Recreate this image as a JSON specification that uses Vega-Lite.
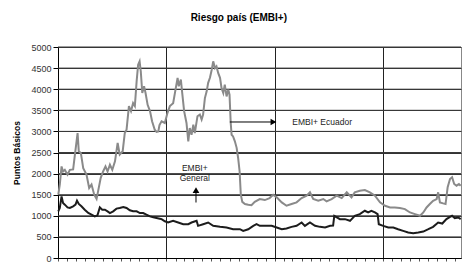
{
  "$schema": "https://vega.github.io/schema/vega-lite/v6.json",
  "width": 403,
  "height": 211,
  "autosize": {"type": "none"},
  "padding": {"left": 58, "top": 47, "right": 9, "bottom": 15},
  "background": "white",
  "config": {
    "font": "Liberation Sans",
    "view": {"stroke": "#888888", "strokeWidth": 1}
  },
  "title": {
    "text": "Riesgo país (EMBI+)",
    "fontSize": 10,
    "fontWeight": "bold",
    "font": "Liberation Sans",
    "color": "#000000",
    "frame": "bounds",
    "anchor": "middle",
    "offset": 20
  },
  "resolve": {"axis": {"x": "independent"}},
  "datasets": {
    "rejilla": [
      {"pb": 500}, {"pb": 1000}, {"pb": 1500}, {"pb": 2000}, {"pb": 2500}, {"pb": 3000}, {"pb": 3500}, {"pb": 4000}, {"pb": 4500}, {"pb": 5000}
    ],
    "ecuador": [
      {"fecha": "1999-01-02", "pb": 1500}, {"fecha": "1999-01-07", "pb": 1740}, {"fecha": "1999-01-13", "pb": 2170}, {"fecha": "1999-01-18", "pb": 2050},
      {"fecha": "1999-01-24", "pb": 2090}, {"fecha": "1999-02-02", "pb": 1975}, {"fecha": "1999-02-10", "pb": 2090}, {"fecha": "1999-02-21", "pb": 2100},
      {"fecha": "1999-02-27", "pb": 2450}, {"fecha": "1999-03-08", "pb": 2960}, {"fecha": "1999-03-12", "pb": 2530}, {"fecha": "1999-03-19", "pb": 2490},
      {"fecha": "1999-03-27", "pb": 2130}, {"fecha": "1999-04-07", "pb": 1975}, {"fecha": "1999-04-16", "pb": 1660}, {"fecha": "1999-04-24", "pb": 1740},
      {"fecha": "1999-05-03", "pb": 1500}, {"fecha": "1999-05-11", "pb": 1400}, {"fecha": "1999-05-16", "pb": 1580}, {"fecha": "1999-05-25", "pb": 1900},
      {"fecha": "1999-06-02", "pb": 2050}, {"fecha": "1999-06-10", "pb": 2170}, {"fecha": "1999-06-17", "pb": 2050}, {"fecha": "1999-06-25", "pb": 2210},
      {"fecha": "1999-07-03", "pb": 2090}, {"fecha": "1999-07-12", "pb": 2290}, {"fecha": "1999-07-21", "pb": 2725}, {"fecha": "1999-07-28", "pb": 2450},
      {"fecha": "1999-08-07", "pb": 2530}, {"fecha": "1999-08-14", "pb": 2960}, {"fecha": "1999-08-20", "pb": 3040}, {"fecha": "1999-08-28", "pb": 3600},
      {"fecha": "1999-09-04", "pb": 3480}, {"fecha": "1999-09-11", "pb": 3670}, {"fecha": "1999-09-17", "pb": 3600}, {"fecha": "1999-09-23", "pb": 4190},
      {"fecha": "1999-09-28", "pb": 4580}, {"fecha": "1999-10-03", "pb": 4660}, {"fecha": "1999-10-07", "pb": 4420}, {"fecha": "1999-10-12", "pb": 3910},
      {"fecha": "1999-10-18", "pb": 4070}, {"fecha": "1999-10-23", "pb": 3910}, {"fecha": "1999-10-30", "pb": 3630}, {"fecha": "1999-11-07", "pb": 3480},
      {"fecha": "1999-11-14", "pb": 3240}, {"fecha": "1999-11-23", "pb": 3040}, {"fecha": "1999-11-29", "pb": 2990}, {"fecha": "1999-12-05", "pb": 3000},
      {"fecha": "1999-12-09", "pb": 3150}, {"fecha": "1999-12-16", "pb": 3240}, {"fecha": "1999-12-27", "pb": 3200}, {"fecha": "2000-01-05", "pb": 3440},
      {"fecha": "2000-01-13", "pb": 3600}, {"fecha": "2000-01-24", "pb": 3670}, {"fecha": "2000-02-01", "pb": 3990}, {"fecha": "2000-02-08", "pb": 4270},
      {"fecha": "2000-02-12", "pb": 4070}, {"fecha": "2000-02-19", "pb": 4230}, {"fecha": "2000-02-23", "pb": 3950}, {"fecha": "2000-03-01", "pb": 3480},
      {"fecha": "2000-03-09", "pb": 3200}, {"fecha": "2000-03-15", "pb": 2765}, {"fecha": "2000-03-20", "pb": 3080}, {"fecha": "2000-03-26", "pb": 2920},
      {"fecha": "2000-04-01", "pb": 3160}, {"fecha": "2000-04-06", "pb": 2960}, {"fecha": "2000-04-15", "pb": 3360}, {"fecha": "2000-04-23", "pb": 3400},
      {"fecha": "2000-04-29", "pb": 3280}, {"fecha": "2000-05-04", "pb": 3400}, {"fecha": "2000-05-10", "pb": 3790}, {"fecha": "2000-05-16", "pb": 3950},
      {"fecha": "2000-05-21", "pb": 4150}, {"fecha": "2000-05-27", "pb": 4270}, {"fecha": "2000-06-02", "pb": 4460}, {"fecha": "2000-06-07", "pb": 4660},
      {"fecha": "2000-06-13", "pb": 4500}, {"fecha": "2000-06-18", "pb": 4540}, {"fecha": "2000-06-24", "pb": 4380}, {"fecha": "2000-06-30", "pb": 4270},
      {"fecha": "2000-07-05", "pb": 4030}, {"fecha": "2000-07-11", "pb": 3910}, {"fecha": "2000-07-16", "pb": 4110}, {"fecha": "2000-07-22", "pb": 3830},
      {"fecha": "2000-07-28", "pb": 3990}, {"fecha": "2000-08-01", "pb": 3870}, {"fecha": "2000-08-05", "pb": 3200}, {"fecha": "2000-08-08", "pb": 2920},
      {"fecha": "2000-08-13", "pb": 2880}, {"fecha": "2000-08-19", "pb": 2765}, {"fecha": "2000-08-25", "pb": 2610}, {"fecha": "2000-08-30", "pb": 2370},
      {"fecha": "2000-09-04", "pb": 2050}, {"fecha": "2000-09-08", "pb": 1500}, {"fecha": "2000-09-13", "pb": 1330}, {"fecha": "2000-09-22", "pb": 1280},
      {"fecha": "2000-10-03", "pb": 1260}, {"fecha": "2000-10-14", "pb": 1250}, {"fecha": "2000-10-25", "pb": 1330}, {"fecha": "2000-11-11", "pb": 1397},
      {"fecha": "2000-11-28", "pb": 1373}, {"fecha": "2000-12-14", "pb": 1420}, {"fecha": "2000-12-26", "pb": 1500}, {"fecha": "2001-01-07", "pb": 1437},
      {"fecha": "2001-01-24", "pb": 1318}, {"fecha": "2001-02-09", "pb": 1238}, {"fecha": "2001-02-26", "pb": 1278}, {"fecha": "2001-03-15", "pb": 1318},
      {"fecha": "2001-04-01", "pb": 1420}, {"fecha": "2001-04-18", "pb": 1476}, {"fecha": "2001-04-29", "pb": 1556}, {"fecha": "2001-05-10", "pb": 1397},
      {"fecha": "2001-05-27", "pb": 1357}, {"fecha": "2001-06-13", "pb": 1397}, {"fecha": "2001-06-24", "pb": 1341}, {"fecha": "2001-07-11", "pb": 1397},
      {"fecha": "2001-07-28", "pb": 1476}, {"fecha": "2001-08-14", "pb": 1420}, {"fecha": "2001-08-31", "pb": 1556}, {"fecha": "2001-09-16", "pb": 1437},
      {"fecha": "2001-09-27", "pb": 1556}, {"fecha": "2001-10-14", "pb": 1595}, {"fecha": "2001-10-31", "pb": 1611}, {"fecha": "2001-11-17", "pb": 1556},
      {"fecha": "2001-12-04", "pb": 1476}, {"fecha": "2001-12-21", "pb": 1318}, {"fecha": "2002-01-07", "pb": 1238}, {"fecha": "2002-01-24", "pb": 1198},
      {"fecha": "2002-02-09", "pb": 1198}, {"fecha": "2002-02-26", "pb": 1183}, {"fecha": "2002-03-15", "pb": 1159}, {"fecha": "2002-04-01", "pb": 1079},
      {"fecha": "2002-04-18", "pb": 1040}, {"fecha": "2002-05-05", "pb": 1000}, {"fecha": "2002-05-16", "pb": 1079}, {"fecha": "2002-05-27", "pb": 1198},
      {"fecha": "2002-06-07", "pb": 1278}, {"fecha": "2002-06-18", "pb": 1357}, {"fecha": "2002-06-30", "pb": 1397}, {"fecha": "2002-07-05", "pb": 1556},
      {"fecha": "2002-07-11", "pb": 1318}, {"fecha": "2002-07-22", "pb": 1294}, {"fecha": "2002-07-30", "pb": 1278}, {"fecha": "2002-08-06", "pb": 1675},
      {"fecha": "2002-08-14", "pb": 1873}, {"fecha": "2002-08-21", "pb": 1913}, {"fecha": "2002-08-28", "pb": 1754}, {"fecha": "2002-09-05", "pb": 1714},
      {"fecha": "2002-09-13", "pb": 1754}, {"fecha": "2002-09-19", "pb": 1714}
    ],
    "general": [
      {"fecha": "1999-01-02", "pb": 1106}, {"fecha": "1999-01-07", "pb": 1185}, {"fecha": "1999-01-13", "pb": 1461}, {"fecha": "1999-01-18", "pb": 1303},
      {"fecha": "1999-01-24", "pb": 1264}, {"fecha": "1999-02-02", "pb": 1200}, {"fecha": "1999-02-10", "pb": 1185}, {"fecha": "1999-02-21", "pb": 1225},
      {"fecha": "1999-03-01", "pb": 1264}, {"fecha": "1999-03-06", "pb": 1359}, {"fecha": "1999-03-12", "pb": 1280}, {"fecha": "1999-03-21", "pb": 1225},
      {"fecha": "1999-04-01", "pb": 1145}, {"fecha": "1999-04-13", "pb": 1066}, {"fecha": "1999-04-24", "pb": 1027}, {"fecha": "1999-05-05", "pb": 987},
      {"fecha": "1999-05-14", "pb": 1011}, {"fecha": "1999-05-22", "pb": 1200}, {"fecha": "1999-05-30", "pb": 1145}, {"fecha": "1999-06-08", "pb": 1145},
      {"fecha": "1999-06-17", "pb": 1106}, {"fecha": "1999-06-25", "pb": 1066}, {"fecha": "1999-07-06", "pb": 1106}, {"fecha": "1999-07-17", "pb": 1170},
      {"fecha": "1999-07-28", "pb": 1185}, {"fecha": "1999-08-09", "pb": 1209}, {"fecha": "1999-08-20", "pb": 1185}, {"fecha": "1999-08-31", "pb": 1130},
      {"fecha": "1999-09-11", "pb": 1106}, {"fecha": "1999-09-23", "pb": 1106}, {"fecha": "1999-10-04", "pb": 1066}, {"fecha": "1999-10-15", "pb": 1066},
      {"fecha": "1999-10-26", "pb": 1027}, {"fecha": "1999-11-07", "pb": 987}, {"fecha": "1999-11-18", "pb": 964}, {"fecha": "1999-11-29", "pb": 948},
      {"fecha": "1999-12-10", "pb": 932}, {"fecha": "1999-12-16", "pb": 921}, {"fecha": "1999-12-27", "pb": 870}, {"fecha": "2000-01-07", "pb": 841},
      {"fecha": "2000-01-24", "pb": 881}, {"fecha": "2000-02-10", "pb": 841}, {"fecha": "2000-02-27", "pb": 801}, {"fecha": "2000-03-15", "pb": 801},
      {"fecha": "2000-03-26", "pb": 841}, {"fecha": "2000-04-12", "pb": 881}, {"fecha": "2000-04-17", "pb": 762}, {"fecha": "2000-05-04", "pb": 801},
      {"fecha": "2000-05-21", "pb": 841}, {"fecha": "2000-06-07", "pb": 762}, {"fecha": "2000-06-30", "pb": 738}, {"fecha": "2000-07-22", "pb": 722},
      {"fecha": "2000-08-13", "pb": 682}, {"fecha": "2000-09-05", "pb": 682}, {"fecha": "2000-09-16", "pb": 643}, {"fecha": "2000-10-03", "pb": 682},
      {"fecha": "2000-10-20", "pb": 762}, {"fecha": "2000-10-31", "pb": 801}, {"fecha": "2000-11-11", "pb": 762}, {"fecha": "2000-11-28", "pb": 762},
      {"fecha": "2000-12-21", "pb": 762}, {"fecha": "2001-01-07", "pb": 722}, {"fecha": "2001-01-24", "pb": 682}, {"fecha": "2001-02-09", "pb": 698},
      {"fecha": "2001-02-26", "pb": 738}, {"fecha": "2001-03-15", "pb": 762}, {"fecha": "2001-04-01", "pb": 841}, {"fecha": "2001-04-12", "pb": 762},
      {"fecha": "2001-04-29", "pb": 841}, {"fecha": "2001-05-16", "pb": 762}, {"fecha": "2001-06-02", "pb": 738}, {"fecha": "2001-06-19", "pb": 722},
      {"fecha": "2001-07-06", "pb": 762}, {"fecha": "2001-07-16", "pb": 770}, {"fecha": "2001-07-20", "pb": 1000}, {"fecha": "2001-08-08", "pb": 921},
      {"fecha": "2001-08-25", "pb": 921}, {"fecha": "2001-09-11", "pb": 881}, {"fecha": "2001-09-27", "pb": 1000}, {"fecha": "2001-10-14", "pb": 1040},
      {"fecha": "2001-10-31", "pb": 1119}, {"fecha": "2001-11-11", "pb": 1079}, {"fecha": "2001-11-22", "pb": 1119}, {"fecha": "2001-12-04", "pb": 1079},
      {"fecha": "2001-12-13", "pb": 1040}, {"fecha": "2001-12-17", "pb": 801}, {"fecha": "2002-01-01", "pb": 762}, {"fecha": "2002-01-18", "pb": 722},
      {"fecha": "2002-02-04", "pb": 722}, {"fecha": "2002-02-20", "pb": 682}, {"fecha": "2002-03-09", "pb": 643}, {"fecha": "2002-03-26", "pb": 603},
      {"fecha": "2002-04-12", "pb": 587}, {"fecha": "2002-04-29", "pb": 603}, {"fecha": "2002-05-16", "pb": 627}, {"fecha": "2002-06-02", "pb": 682},
      {"fecha": "2002-06-18", "pb": 738}, {"fecha": "2002-07-05", "pb": 841}, {"fecha": "2002-07-19", "pb": 817}, {"fecha": "2002-08-02", "pb": 921},
      {"fecha": "2002-08-14", "pb": 976}, {"fecha": "2002-08-21", "pb": 1000}, {"fecha": "2002-08-30", "pb": 944}, {"fecha": "2002-09-11", "pb": 960},
      {"fecha": "2002-09-19", "pb": 921}
    ],
    "flechas": [
      {"fecha": "2000-08-02", "fecha2": "2000-12-20", "pb": 3223, "pb2": 3223},
      {"fecha": "2000-04-10", "fecha2": "2000-04-10", "pb": 1315, "pb2": 1580}
    ],
    "puntaDerecha": [{"fecha": "2000-12-27", "pb": 3223}],
    "puntaArriba": [{"fecha": "2000-04-10", "pb": 1610}],
    "notas": [
      {"fecha": "2001-06-09", "pb": 3223, "texto": "EMBI+ Ecuador"},
      {"fecha": "2000-04-06", "pb": 2137, "texto": "EMBI+"},
      {"fecha": "2000-04-06", "pb": 1891, "texto": "General"}
    ]
  },
  "encoding": {
    "y": {
      "field": "pb",
      "type": "quantitative",
      "scale": {"domain": [0, 5000], "nice": false},
      "axis": {
        "title": "Puntos Básicos",
        "titleFontSize": 8.5,
        "titleFontWeight": "bold",
        "titleColor": "#000000",
        "titlePadding": 9,
        "values": [0, 500, 1000, 1500, 2000, 2500, 3000, 3500, 4000, 4500, 5000],
        "format": "d",
        "labelFontSize": 9,
        "labelColor": "#333333",
        "labelPadding": 2,
        "tickSize": 5,
        "tickColor": "#000000",
        "domainColor": "#000000",
        "grid": true,
        "gridColor": "#333333",
        "gridOpacity": 1,
        "gridWidth": 1
      }
    }
  },
  "layer": [
    {
      "data": {"name": "rejilla"},
      "mark": {"type": "rule", "color": "#3a3a3a", "strokeWidth": 1}
    },
    {
      "data": {"name": "ecuador"},
      "mark": {"type": "line", "color": "#8a8a8a", "strokeWidth": 2},
      "encoding": {
        "x": {
          "field": "fecha",
          "type": "temporal",
          "scale": {"domain": [{"year": 1999, "month": 1, "date": 1}, {"year": 2002, "month": 9, "date": 20}]},
          "axis": {
            "orient": "top",
            "title": null,
            "labels": false,
            "ticks": false,
            "domain": false,
            "values": [{"year": 2000, "month": 1, "date": 1}, {"year": 2001, "month": 1, "date": 1}, {"year": 2002, "month": 1, "date": 1}],
            "grid": true,
            "gridColor": "#222222",
            "gridOpacity": 1,
            "gridWidth": 1
          }
        }
      }
    },
    {
      "data": {"name": "general"},
      "mark": {"type": "line", "color": "#1c1c1c", "strokeWidth": 2},
      "encoding": {
        "x": {
          "field": "fecha",
          "type": "temporal",
          "axis": {
            "orient": "bottom",
            "title": null,
            "labels": false,
            "tickCount": {"interval": "month", "step": 1},
            "tickSize": 3,
            "tickColor": "#555555",
            "domain": true,
            "domainColor": "#000000",
            "grid": false
          }
        }
      }
    },
    {
      "data": {"name": "flechas"},
      "mark": {"type": "rule", "color": "#000000", "strokeWidth": 1},
      "encoding": {
        "x": {"field": "fecha", "type": "temporal", "axis": null},
        "x2": {"field": "fecha2"},
        "y2": {"field": "pb2"}
      }
    },
    {
      "data": {"name": "puntaDerecha"},
      "mark": {"type": "point", "shape": "triangle-right", "filled": true, "color": "#000000", "size": 45, "opacity": 1},
      "encoding": {"x": {"field": "fecha", "type": "temporal", "axis": null}}
    },
    {
      "data": {"name": "puntaArriba"},
      "mark": {"type": "point", "shape": "triangle-up", "filled": true, "color": "#000000", "size": 45, "opacity": 1},
      "encoding": {"x": {"field": "fecha", "type": "temporal", "axis": null}}
    },
    {
      "data": {"name": "notas"},
      "mark": {"type": "text", "fontSize": 8.5, "color": "#222222", "align": "center", "baseline": "middle"},
      "encoding": {
        "x": {"field": "fecha", "type": "temporal", "axis": null},
        "text": {"field": "texto"}
      }
    }
  ]
}
